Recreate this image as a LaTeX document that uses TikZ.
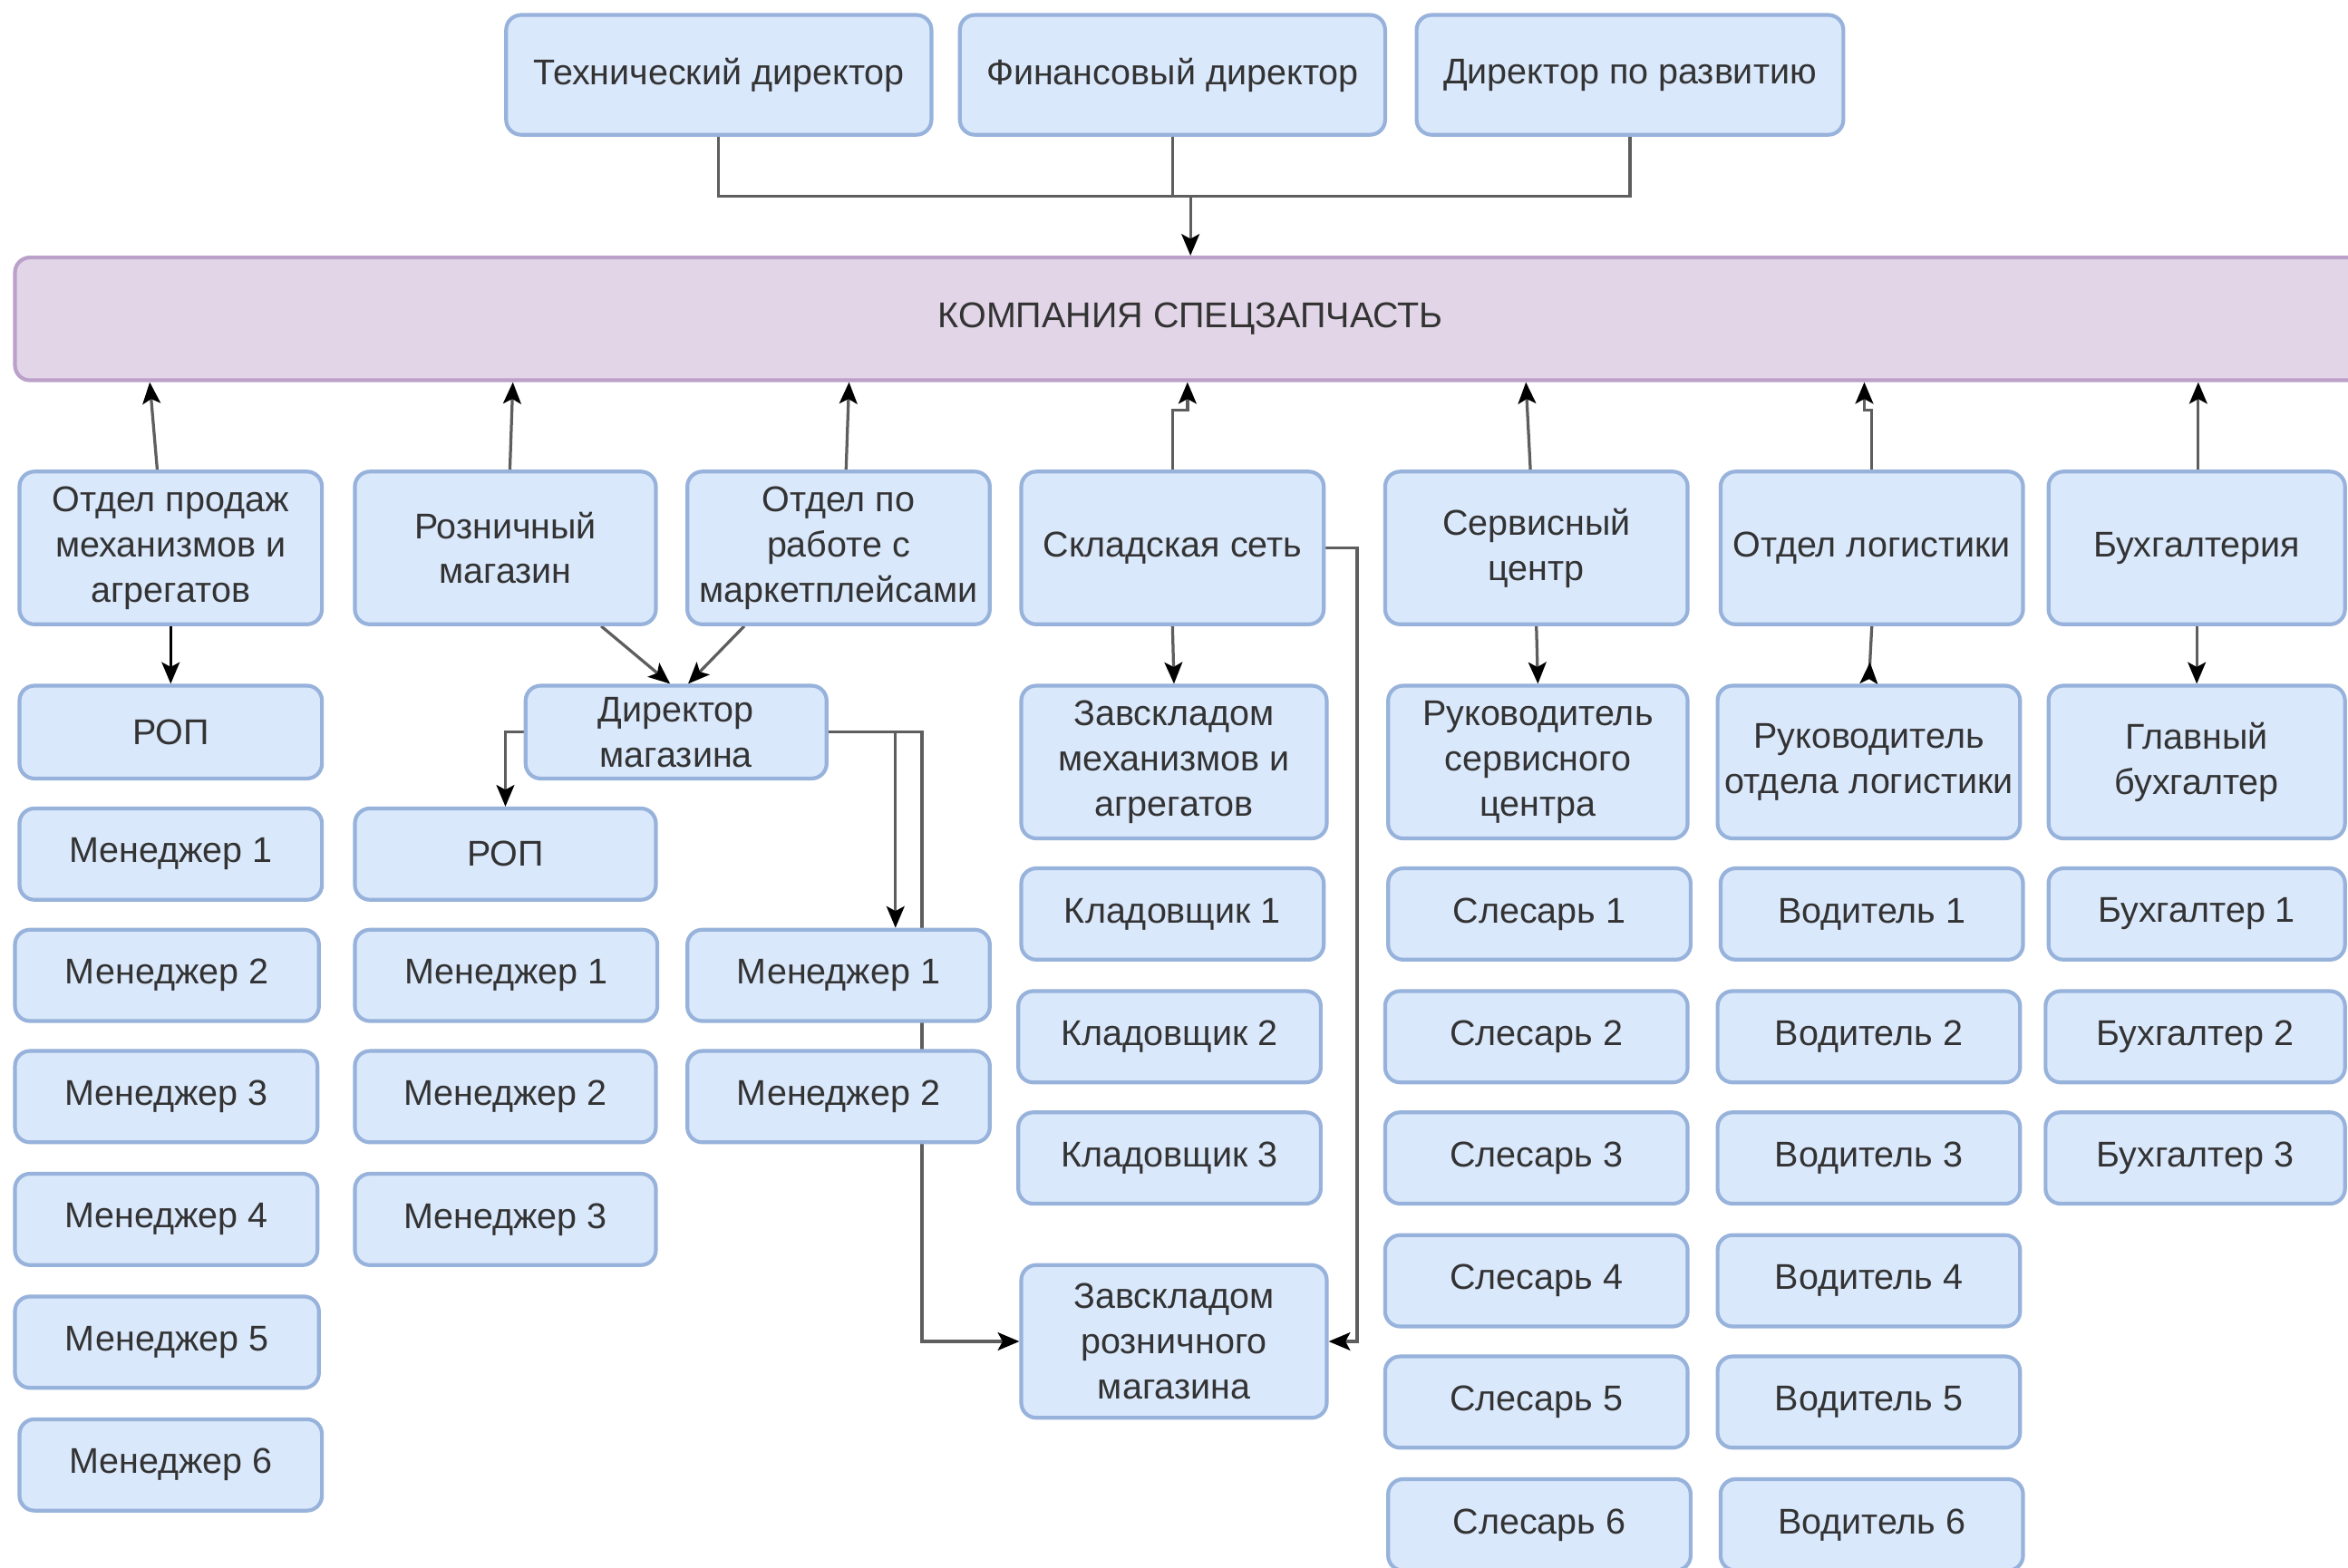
\documentclass[tikz,border=0pt]{standalone}
\usepackage{fontspec}
\setmainfont{Liberation Sans}
\usetikzlibrary{arrows.meta,calc}
\definecolor{bfill}{HTML}{DAE8FC}
\definecolor{bline}{HTML}{97B2DB}
\definecolor{pfill}{HTML}{E1D5E7}
\definecolor{pline}{HTML}{BBA0C9}
\definecolor{txt}{HTML}{333333}
\definecolor{edge}{HTML}{5E5E5E}
\pgfdeclarelayer{bg}
\pgfsetlayers{bg,main}
\tikzset{
  bx/.style={draw=bline, fill=bfill, line width=1.8pt, rounded corners=0.25cm,
    inner sep=0pt, align=center, text=txt,
    font=\fontsize{17}{21.5}\selectfont},
  pbx/.style={bx, draw=pline, fill=pfill},
  ln/.style={draw=edge, line width=1.4pt},
  ar/.style={ln, -{Stealth[length=0.36cm,width=0.3cm,inset=0.08cm,color=black]}},
  rar/.style={ln, -{Stealth[length=0.36cm,width=0.3cm,inset=0.08cm,color=black,reversed]}},
}
\newcommand{\ob}[7][bx]{\node[#1, minimum width={(#5-#3)*0.025cm}, minimum height={(#6-#4)*0.025cm}] (#2) at ({(#3+#5)/2},{(#4+#6)/2}) {#7};}
\begin{document}
\begin{tikzpicture}[x=0.025cm,y=-0.025cm]
\useasboundingbox (0,0) rectangle (1568,1047);
\clip (0,0) rectangle (1568,1047);
% top
\ob{tech}{338}{10}{622}{90}{Технический директор}
\ob{fin}{641}{10}{925}{90}{Финансовый директор}
\ob{razv}{946}{10}{1231}{90}{Директор по развитию}
\ob[pbx]{comp}{10}{172}{1580}{254}{КОМПАНИЯ СПЕЦЗАПЧАСТЬ}
% departments
\ob{sales}{13}{315}{215}{417}{Отдел продаж\\механизмов и\\агрегатов}
\ob{roz}{237}{315}{438}{417}{Розничный\\магазин}
\ob{mark}{459}{315}{661}{417}{Отдел по\\работе с\\маркетплейсами}
\ob{sklad}{682}{315}{884}{417}{Складская сеть}
\ob{serv}{925}{315}{1127}{417}{Сервисный\\центр}
\ob{logi}{1149}{315}{1351}{417}{Отдел логистики}
\ob{buh}{1368}{315}{1566}{417}{Бухгалтерия}
% column 1
\ob{ropa}{13}{458}{215}{520}{РОП}
\ob{ma1}{13}{540}{215}{601}{Менеджер 1}
\ob{ma2}{10}{621}{213}{682}{Менеджер 2}
\ob{ma3}{10}{702}{212}{763}{Менеджер 3}
\ob{ma4}{10}{784}{212}{845}{Менеджер 4}
\ob{ma5}{10}{866}{213}{927}{Менеджер 5}
\ob{ma6}{13}{948}{215}{1009}{Менеджер 6}
% column 2/3
\ob{dirm}{351}{458}{552}{520}{Директор\\магазина}
\ob{ropb}{237}{540}{438}{601}{РОП}
\ob{mb1}{237}{621}{439}{682}{Менеджер 1}
\ob{mb2}{237}{702}{438}{763}{Менеджер 2}
\ob{mb3}{237}{784}{438}{845}{Менеджер 3}
\ob{mc1}{459}{621}{661}{682}{Менеджер 1}
\ob{mc2}{459}{702}{661}{763}{Менеджер 2}
% column 4
\ob{zavm}{682}{458}{886}{560}{Завскладом\\механизмов и\\агрегатов}
\ob{kl1}{682}{580}{884}{641}{Кладовщик 1}
\ob{kl2}{680}{662}{882}{723}{Кладовщик 2}
\ob{kl3}{680}{743}{882}{804}{Кладовщик 3}
\ob{zavr}{682}{845}{886}{947}{Завскладом\\розничного\\магазина}
% column 5
\ob{ruks}{927}{458}{1127}{560}{Руководитель\\сервисного\\центра}
\ob{sl1}{927}{580}{1129}{641}{Слесарь 1}
\ob{sl2}{925}{662}{1127}{723}{Слесарь 2}
\ob{sl3}{925}{743}{1127}{804}{Слесарь 3}
\ob{sl4}{925}{825}{1127}{886}{Слесарь 4}
\ob{sl5}{925}{906}{1127}{967}{Слесарь 5}
\ob{sl6}{927}{988}{1129}{1049}{Слесарь 6}
% column 6
\ob{rukl}{1147}{458}{1349}{560}{Руководитель\\отдела логистики}
\ob{vd1}{1149}{580}{1351}{641}{Водитель 1}
\ob{vd2}{1147}{662}{1349}{723}{Водитель 2}
\ob{vd3}{1147}{743}{1349}{804}{Водитель 3}
\ob{vd4}{1147}{825}{1349}{886}{Водитель 4}
\ob{vd5}{1147}{906}{1349}{967}{Водитель 5}
\ob{vd6}{1149}{988}{1351}{1049}{Водитель 6}
% column 7
\ob{glb}{1368}{458}{1566}{560}{Главный\\бухгалтер}
\ob{bh1}{1368}{580}{1566}{641}{Бухгалтер 1}
\ob{bh2}{1366}{662}{1566}{723}{Бухгалтер 2}
\ob{bh3}{1366}{743}{1566}{804}{Бухгалтер 3}
% edges
\begin{pgfonlayer}{bg}
\fill[white] (0,0) rectangle (1568,1047);
\coordinate (jn) at ($(fin.south)+(12,40)$);
\draw[ln] (tech.south) |- (jn) -| (razv.south);
\draw[ln] (fin.south) -- (fin.south |- jn);
\draw[ar] (jn) -- (jn |- comp.north);
% up to company
\draw[ar] ($(sales.north)+(-9,0)$) -- ($(sales.north |- comp.south)+(-14,0)$);
\draw[ar] ($(roz.north)+(3,0)$) -- ($(roz.north |- comp.south)+(5,0)$);
\draw[ar] ($(mark.north)+(5,0)$) -- ($(mark.north |- comp.south)+(7,0)$);
\draw[ar] (sklad.north) -- ++(0,-40) -| ($(sklad.north |- comp.south)+(10,0)$);
\draw[ar] ($(serv.north)+(-4,0)$) -- ($(serv.north |- comp.south)+(-7,0)$);
\draw[ar] (logi.north) -- ++(0,-40) -| ($(logi.north |- comp.south)+(-5,0)$);
\draw[ar] ($(buh.north)+(1,0)$) -- ($(buh.north |- comp.south)+(1,0)$);
% down
\draw[ar, draw=black] (sales.south) -- (ropa.north);
\draw[ar] ($(roz.south)+(64,0)$) -- ($(dirm.north)+(-4,0)$);
\draw[ar] ($(mark.south)+(-63,0)$) -- ($(dirm.north)+(8,0)$);
\draw[ar] (dirm.west) -| (ropb.north);
\draw[ar] (dirm.east) -| ($(mc1.north)+(38,0)$);
\draw[ar] (dirm.east) -| ($(zavr.west)+(-65,0)$) -- (zavr.west);
\draw[ar] (sklad.south) -- (zavm.north);
\draw[ar] (sklad.east) -- ++(21,0) |- (zavr.east);
\draw[ar] (serv.south) -- (ruks.north);
\draw[rar] (logi.south) -- (rukl.north);
\draw[ar] (buh.south) -- (glb.north);
\end{pgfonlayer}
\end{tikzpicture}
\end{document}
